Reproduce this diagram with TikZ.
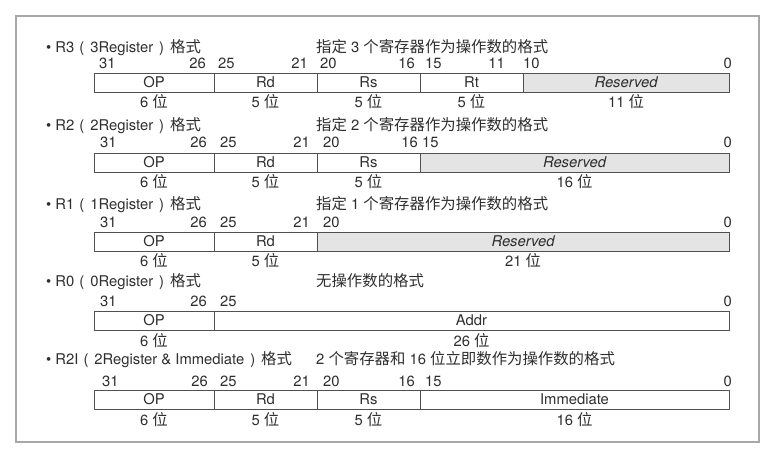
\documentclass[tikz,border=0pt]{standalone}
\usepackage{fontspec}
\setmainfont{TeX Gyre Heros}
\newfontfamily\cjk{Noto Sans CJK SC}[Scale=1.04]
\usepackage{tikz}
\usetikzlibrary{positioning}
\definecolor{ink}{HTML}{2E2E2E}
\definecolor{edge}{HTML}{505050}
\definecolor{shade}{HTML}{E4E4E4}
\definecolor{rim}{HTML}{A8A8A8}
\newcommand\fsz{\fontsize{14.8}{17}\selectfont}
\newcommand\lp{\hspace{5pt}(\hspace{6pt}}
\newcommand\rp{\hspace{6pt})\hspace{6pt}}

\begin{document}
\begin{tikzpicture}[
      x=1pt, y=-1pt,
      title/.style={anchor=base west, inner sep=0pt, font=\fsz, text=ink},
      desc/.style={anchor=base west, inner sep=0pt, font=\fsz, text=ink},
      bit/.style={inner sep=0pt, font=\fsz, text=ink},
      fld/.style={draw=edge, line width=0.9pt, minimum height=19pt, inner sep=0pt, text height=10pt, text depth=0pt, font=\fsz, text=ink},
      resv/.style={fld, fill=shade, font=\fsz\itshape},
      bitcount/.style={inner sep=0pt, text height=10pt, text depth=3pt, font=\fsz, text=ink},
      outline/.style={draw=rim, line width=1.2pt}
    ]
    \useasboundingbox (0,0) rectangle (770,458);
    \draw[outline] (16,16) rectangle (759,442);

    % R3
    \node[title] (r3) at (46,52) {\textbullet\ R3\lp 3Register\rp{\cjk 格式}};
    \node[desc] (r3d) at (316,52) {{\cjk 指定} 3 {\cjk 个寄存器作为操作数的格式}};
    \foreach \x/\nb/\p in {99/31/west, 206/26/east, 218/25/west, 308/21/east, 320/20/west, 415/16/east, 425/15/west, 505/11/east, 523/10/west, 732/0/east}
      \node[bit, anchor=base \p] (r3-b\nb) at (\x,68) {\nb};
    \foreach \a/\b/\fn/\n/\sty in {94/214/OP/6/fld, 214/317/Rd/5/fld, 317/420/Rs/5/fld, 420/523/Rt/5/fld, 523/729/Reserved/11/resv}{
      \node[\sty, minimum width=\b-\a] (r3-\fn) at ({(\a+\b)/2},82.5) {\fn};
      \node[bitcount, below=5pt of r3-\fn] (r3-n\fn) {\n\ {\cjk 位}};
    }

    % R2
    \node[title] (r2) at (46,130) {\textbullet\ R2\lp 2Register\rp{\cjk 格式}};
    \node[desc] (r2d) at (316,130) {{\cjk 指定} 2 {\cjk 个寄存器作为操作数的格式}};
    \foreach \x/\nb/\p in {100/31/west, 207/26/east, 220/25/west, 310/21/east, 323/20/west, 418/16/east, 422/15/west, 732/0/east}
      \node[bit, anchor=base \p] (r2-b\nb) at (\x,147) {\nb};
    \foreach \a/\b/\fn/\n/\sty in {94/214/OP/6/fld, 214/317/Rd/5/fld, 317/420/Rs/5/fld, 420/729/Reserved/16/resv}{
      \node[\sty, minimum width=\b-\a] (r2-\fn) at ({(\a+\b)/2},162.5) {\fn};
      \node[bitcount, below=5pt of r2-\fn] (r2-n\fn) {\n\ {\cjk 位}};
    }

    % R1
    \node[title] (r1) at (46,209) {\textbullet\ R1\lp 1Register\rp{\cjk 格式}};
    \node[desc] (r1d) at (316,209) {{\cjk 指定} 1 {\cjk 个寄存器作为操作数的格式}};
    \foreach \x/\nb/\p in {100/31/west, 207/26/east, 220/25/west, 310/21/east, 323/20/west, 732/0/east}
      \node[bit, anchor=base \p] (r1-b\nb) at (\x,227) {\nb};
    \foreach \a/\b/\fn/\n/\sty in {94/214/OP/6/fld, 214/317/Rd/5/fld, 317/729/Reserved/21/resv}{
      \node[\sty, minimum width=\b-\a] (r1-\fn) at ({(\a+\b)/2},241.5) {\fn};
      \node[bitcount, below=5pt of r1-\fn] (r1-n\fn) {\n\ {\cjk 位}};
    }

    % R0
    \node[title] (r0) at (46,286) {\textbullet\ R0\lp 0Register\rp{\cjk 格式}};
    \node[desc] (r0d) at (316,286) {{\cjk 无操作数的格式}};
    \foreach \x/\nb/\p in {100/31/west, 207/26/east, 220/25/west, 732/0/east}
      \node[bit, anchor=base \p] (r0-b\nb) at (\x,306) {\nb};
    \foreach \a/\b/\fn/\n/\sty in {94/214/OP/6/fld, 214/729/Addr/26/fld}{
      \node[\sty, minimum width=\b-\a] (r0-\fn) at ({(\a+\b)/2},320.5) {\fn};
      \node[bitcount, below=6pt of r0-\fn] (r0-n\fn) {\n\ {\cjk 位}};
    }

    % R2I
    \node[title] (r2i) at (46,364) {\textbullet\ R2I\lp 2Register \& Immediate\rp{\cjk 格式}};
    \node[desc] (r2id) at (316,364) {2 {\cjk 个寄存器和} 16 {\cjk 位立即数作为操作数的格式}};
    \foreach \x/\nb/\p in {102/31/west, 208/26/east, 220/25/west, 310/21/east, 323/20/west, 415/16/east, 425/15/west, 732/0/east}
      \node[bit, anchor=base \p] (r2i-b\nb) at (\x,386) {\nb};
    \foreach \a/\b/\fn/\n/\sty in {94/214/OP/6/fld, 214/317/Rd/5/fld, 317/420/Rs/5/fld, 420/729/Immediate/16/fld}{
      \node[\sty, minimum width=\b-\a] (r2i-\fn) at ({(\a+\b)/2},399.5) {\fn};
      \node[bitcount, below=6pt of r2i-\fn] (r2i-n\fn) {\n\ {\cjk 位}};
    }
  \end{tikzpicture}
\end{document}
